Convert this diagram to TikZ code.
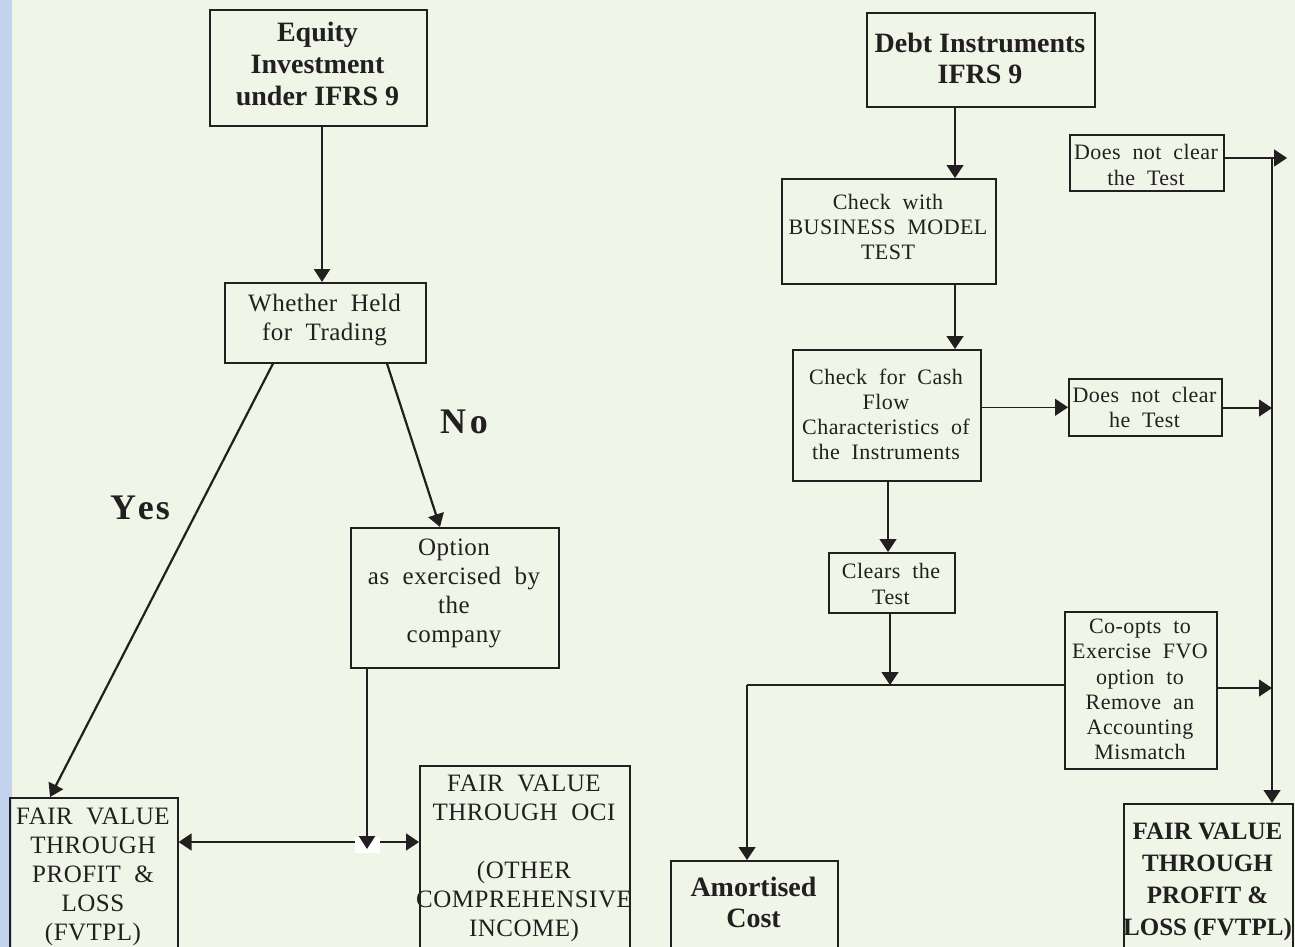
\documentclass[tikz,border=0pt]{standalone}
\usepackage{fontspec}
\setmainfont{Liberation Serif}
\newfontfamily\regf{Liberation Serif}[LetterSpace=2,WordSpace=2]
\usetikzlibrary{arrows.meta}
\definecolor{bg}{HTML}{EFF6E7}
\definecolor{stripe}{HTML}{C4D4EE}
\definecolor{ink}{HTML}{231F20}
\tikzset{
  box/.style n args={2}{draw=ink, line width=0.8pt, anchor=north west, inner sep=0pt,
    minimum width=#1*0.5pt, minimum height=#2*0.5pt},
  lreg/.style={font=\regf\fontsize{12.5}{14.5}\selectfont},
  rreg/.style={font=\regf\fontsize{11}{12.6}\selectfont},
  bld/.style={font=\bfseries\fontsize{14}{16}\selectfont},
  txt/.style={inner sep=0pt, align=center, text=ink},
  thick arr/.style={draw=ink, line width=1.2pt, -{Triangle[length=6.5pt,width=8pt]}},
  thin arr/.style={draw=ink, line width=0.65pt, -{Triangle[length=6.5pt,width=8.5pt]}},
  thin line/.style={draw=ink, line width=0.65pt},
  big/.style={font=\bfseries\fontsize{18}{20}\selectfont, text=ink, inner sep=0pt},
}
\begin{document}
\begin{tikzpicture}[x=0.5pt,y=-0.5pt]
\useasboundingbox (0,0) rectangle (1295,947);
\fill[bg] (0,0) rectangle (1295,947);
\fill[stripe] (0,0) rectangle (12,947);

% ---------- left side boxes ----------
\node[box={217}{116}] (eq) at (209,9) {};
\node[txt, bld] (eqT) at (317.5,63.5) {Equity\\Investment\\under IFRS 9};
\node[box={201}{80}] (held) at (224,282) {};
\node[txt, lreg] (heldT) at (324.5,320) {Whether Held\\for Trading};
\node[box={208}{140}] (opt) at (350,527) {};
\node[txt, lreg] (optT) at (454,593) {Option\\as exercised by\\the\\company};
\node[box={168}{200}] (fvl) at (9,797) {};
\node[txt, lreg] (fvlT) at (93,877) {FAIR VALUE\\THROUGH\\PROFIT \&\\LOSS\\(FVTPL)};
\node[box={210}{220}] (oci) at (419,765) {};
\node[txt, lreg] (ociT) at (524,858.5) {FAIR VALUE\\THROUGH OCI\\[14.5pt](OTHER\\COMPREHENSIVE\\INCOME)};

\node[big] (yes) at (140,508) {Y\kern1pt e\kern1pt s};
\node[big] (no) at (464,422) {N\kern2pt o};

% ---------- right side boxes ----------
\node[box={228}{94}] (debt) at (866,12) {};
\node[txt, bld, font=\bfseries\fontsize{14}{15.5}\selectfont] (debtT) at (980,58.5) {Debt Instruments\\IFRS 9};
\node[box={214}{105}] (bm) at (781,178) {};
\node[txt, rreg] (bmT) at (888,227) {Check with\\BUSINESS\ MODEL\\TEST};
\node[box={188}{131}] (cf) at (792,349) {};
\node[txt, rreg] (cfT) at (886,414.5) {Check for Cash\\Flow\\Characteristics of\\the Instruments};
\node[box={154}{56}] (dnc1) at (1069,134) {};
\node[txt, rreg] (dnc1T) at (1146,165) {Does not clear\\the Test};
\node[box={153}{57}] (dnc2) at (1068,378) {};
\node[txt, rreg] (dnc2T) at (1144.5,407.5) {Does not clear\\he Test};
\node[box={126}{60}] (clr) at (828,552) {};
\node[txt, rreg] (clrT) at (891,584) {Clears the\\Test};
\node[box={152}{157}] (coopt) at (1064,611) {};
\node[txt, rreg] (cooptT) at (1140,689.5) {Co-opts to\\Exercise FVO\\option to\\Remove an\\Accounting\\Mismatch};
\node[box={167}{200}] (amort) at (670,860) {};
\node[txt, bld, font=\bfseries\fontsize{14}{15.5}\selectfont] (amortT) at (753.5,902) {Amortised\\Cost};
\node[box={169}{200}] (fvr) at (1123,803) {};
\node[txt, font=\bfseries\fontsize{12.5}{16}\selectfont] (fvrT) at (1207.5,882) {FAIR VALUE\\THROUGH\\PROFIT \&\\LOSS (FVTPL)};

% ---------- coordinates ----------
\coordinate (xEq) at (322,0);
\coordinate (xYesA) at (273,0);
\coordinate (yesEnd) at (50,797);
\coordinate (xNoA) at (387,0);
\coordinate (noEnd) at (440,527);
\coordinate (xOpt) at (367,0);
\coordinate (junc) at (367,849);
\coordinate (yH) at (0,842);
\coordinate (xD) at (955,0);
\coordinate (xCf) at (888,0);
\coordinate (xClr) at (890,0);
\coordinate (yBus) at (0,685);
\coordinate (busL) at (747,685);
\coordinate (busC) at (890,685);
\coordinate (vTop) at (1272,158);
\coordinate (vTopTip) at (1287,158);
\coordinate (xV) at (1272,0);
\coordinate (vMid) at (1272,408);
\coordinate (vLow) at (1272,688);

% ---------- left connectors ----------
\draw[thick arr] (eq.south -| xEq) -- (held.north -| xEq);
\draw[draw=ink, line width=1.1pt, -{Triangle[length=6.5pt,width=8pt]}] (held.south -| xYesA) -- (yesEnd);
\draw[draw=ink, line width=1.1pt, -{Triangle[length=6.5pt,width=8pt]}] (held.south -| xNoA) -- (noEnd);
\draw[draw=ink, line width=0.85pt, {Triangle[length=6.5pt,width=8.5pt]}-{Triangle[length=6.5pt,width=8.5pt]}] (fvl.east |- yH) -- (oci.west |- yH);
\fill[white] (355,837) rectangle (380,853);
\draw[thick arr] (opt.south -| xOpt) -- (junc);

% ---------- right connectors ----------
\draw[thin arr] (debt.south -| xD) -- (bm.north -| xD);
\draw[thin arr] (bm.south -| xD) -- (cf.north -| xD);
\draw[thin arr] (cf.east |- dnc2.west) -- (dnc2.west);
\draw[thin arr] (dnc2.east |- vMid) -- (vMid);
\draw[thin arr] (dnc1.east |- vTop) -- (vTopTip);
\draw[thin arr] (vTop) -- (fvr.north -| xV);
\draw[thin arr] (coopt.east |- vLow) -- (vLow);
\draw[thin arr] (cf.south -| xCf) -- (clr.north -| xCf);
\draw[thin arr] (clr.south -| xClr) -- (busC);
\draw[thin line] (coopt.west |- yBus) -- (busL);
\draw[thin arr] (busL) -- (amort.north -| busL);
\end{tikzpicture}
\end{document}
